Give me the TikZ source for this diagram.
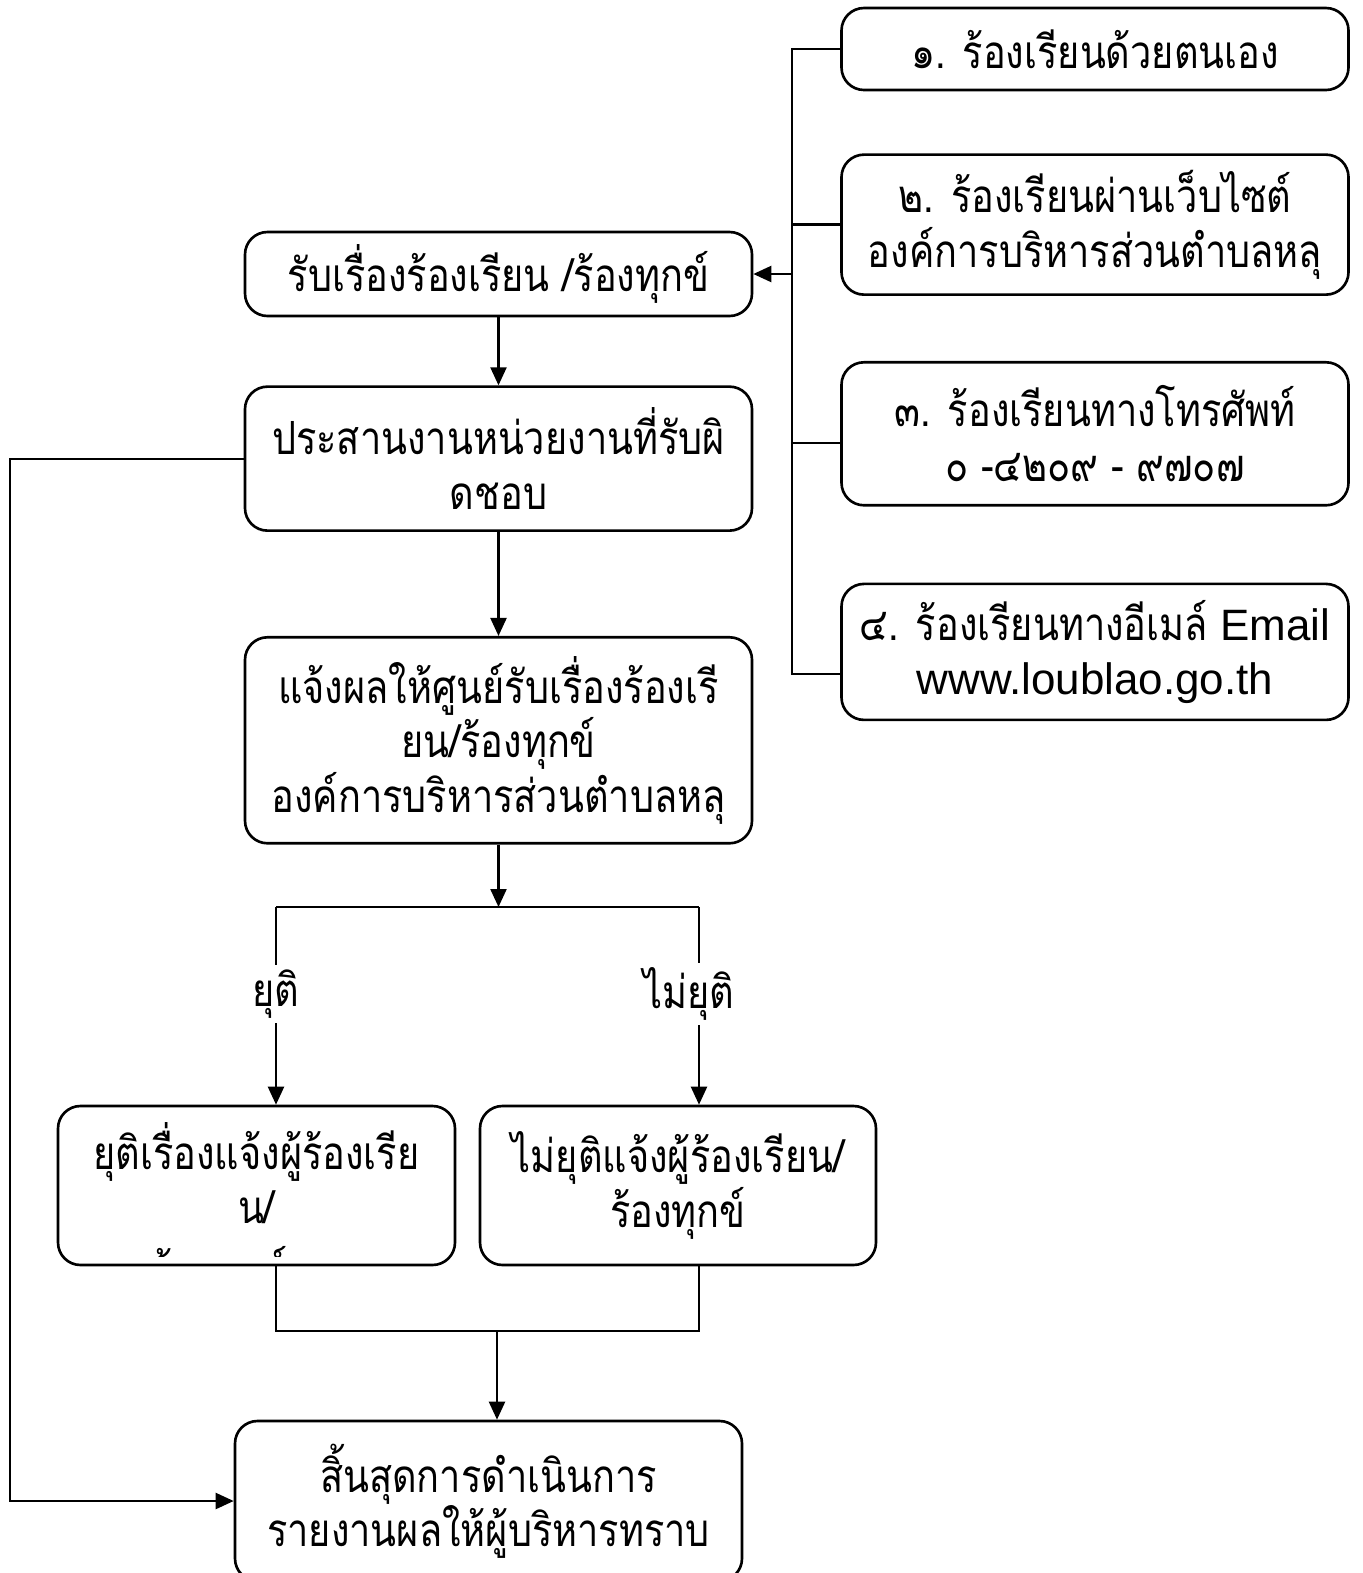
\documentclass[tikz,border=0pt]{standalone}
\usepackage{fontspec}
\setmainfont{Liberation Sans}
\newfontfamily\thaifont[Script=Thai,FakeStretch=0.83]{Loma}
\usepackage{xcolor}
\definecolor{Ink}{HTML}{000000}
\usetikzlibrary{arrows.meta,positioning}
\tikzset{
  procbox/.style={draw=Ink,line width=1.5pt,rounded corners=4.5mm,fill=white,
    minimum width=101.4mm,align=center,inner sep=0pt,
    font=\thaifont\fontsize{26}{31}\selectfont},
  flow/.style={-{Triangle[length=3.6mm,width=3.2mm]},line width=1.3pt,draw=Ink},
  link/.style={line width=1.3pt,draw=Ink},
  branch/.style={fill=white,inner sep=1mm,font=\thaifont\fontsize{26}{31}\selectfont}
}

\begin{document}
\begin{tikzpicture}[node distance=12mm]
  \clip (0,0) rectangle (27.24,-31.46);
  % channels on the right
  \node[procbox, minimum height=16.4mm] (phone1) at (21.9,-0.98) {๑. ร้องเรียนด้วยตนเอง};
  \node[procbox, minimum height=28mm, below=12.4mm of phone1] (web) {๒. ร้องเรียนผ่านเว็บไซต์\\องค์การบริหารส่วนตำบลหลุ};
  \node[procbox, minimum height=28.6mm, below=13mm of web] (phone) {๓. ร้องเรียนทางโทรศัพท์\\๐ -๔๒๐๙ - ๙๗๐๗};
  \node[procbox, minimum height=27.2mm, below=15.2mm of phone] (mail) {๔. ร้องเรียนทางอีเมล์ {\fontspec{Liberation Sans}\fontsize{25}{31}\selectfont Email}\\{\fontspec{Liberation Sans}\fontsize{25}{31}\selectfont www.loublao.go.th}};
  % main column
  \node[procbox, minimum height=16.8mm] (receive) at (9.97,-5.48) {รับเรื่องร้องเรียน /ร้องทุกข์};
  \node[procbox, minimum height=28.8mm, below=13.6mm of receive] (coord) {ประสานงานหน่วยงานที่รับผิ\\ดชอบ};
  \node[procbox, minimum height=41.2mm, below=20.8mm of coord] (notify) {แจ้งผลให้ศูนย์รับเรื่องร้องเรี\\ยน/ร้องทุกข์\\องค์การบริหารส่วนตำบลหลุ};
  \node[procbox, minimum width=79.4mm, minimum height=31.8mm, text depth=5mm] (stop) at (5.13,-23.71) {ยุติเรื่องแจ้งผู้ร้องเรีย\\น/};
  \node[procbox, minimum width=79.2mm, minimum height=31.8mm] (go) at (13.56,-23.71) {ไม่ยุติแจ้งผู้ร้องเรียน/\\ร้องทุกข์};
  \node[procbox, minimum height=32mm] (finish) at (9.77,-30.02) {สิ้นสุดการดำเนินการ\\รายงานผลให้ผู้บริหารทราบ};
  % clipped last line
  \begin{scope}
    \clip (1.5,-24.74) rectangle (8.5,-25.12);
    \node[branch, fill=none] (stoptail) at (4.4,-25.44) {ร้องทุกข์};
  \end{scope}
  % spine
  \coordinate (spine) at (15.84,0);
  \coordinate (loop) at (0.2,0);
  \coordinate (phonestub) at ([yshift=-1.8mm]phone.west);
  \coordinate (mailstub) at ([yshift=-4.4mm]mail.west);
  \draw[link] (phone1.west) -- (phone1.west -| spine) -- (spine |- mailstub) -- (mailstub);
  \draw[link] (web.west) -- (web.west -| spine);
  \draw[link] (phonestub) -- (phonestub -| spine);
  \draw[flow] (spine |- receive.east) -- (receive.east);
  \draw[flow] (receive) -- (coord);
  \draw[flow] (coord) -- (notify);
  \draw[flow] (coord.west) -- (coord.west -| loop) |- (finish.west);
  % split
  \coordinate (splitL) at (5.52,-18.14);
  \coordinate (splitR) at (13.98,-18.14);
  \draw[flow] (notify.south) -- (notify.south |- splitL);
  \draw[link] (splitL) -- (splitR);
  \draw[flow] (splitL) -- node[branch, pos=0.44] {ยุติ} (splitL |- stop.north);
  \draw[flow] (splitR) -- node[branch, pos=0.44, xshift=-2mm] {ไม่ยุติ} (splitR |- go.north);
  % merge
  \coordinate (mergeL) at (5.52,-26.62);
  \coordinate (mergeR) at (13.98,-26.62);
  \coordinate (mergeM) at (9.94,-26.62);
  \draw[link] (stop.south -| mergeL) -- (mergeL) -- (mergeR) -- (go.south -| mergeR);
  \draw[flow] (mergeM) -- (mergeM |- finish.north);
\end{tikzpicture}
\end{document}
